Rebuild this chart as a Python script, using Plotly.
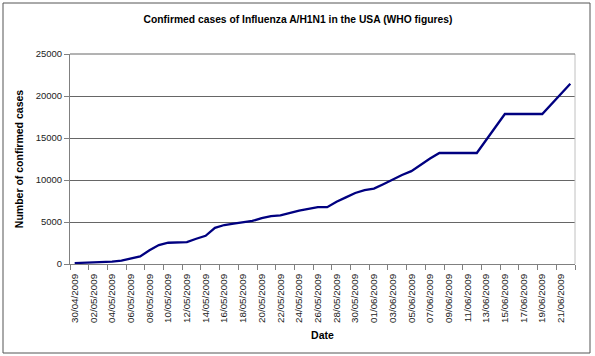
import plotly.graph_objects as go

# Data
dates = [
    "2009-04-30", "2009-05-01", "2009-05-02", "2009-05-03", "2009-05-04",
    "2009-05-05", "2009-05-06", "2009-05-07", "2009-05-08", "2009-05-09",
    "2009-05-10", "2009-05-11", "2009-05-12", "2009-05-13", "2009-05-14",
    "2009-05-15", "2009-05-16", "2009-05-17", "2009-05-18", "2009-05-19",
    "2009-05-20", "2009-05-21", "2009-05-22", "2009-05-23", "2009-05-24",
    "2009-05-25", "2009-05-26", "2009-05-27", "2009-05-28", "2009-05-29",
    "2009-05-30", "2009-05-31", "2009-06-01", "2009-06-02", "2009-06-03",
    "2009-06-04", "2009-06-05", "2009-06-06", "2009-06-07", "2009-06-08",
    "2009-06-12", "2009-06-15", "2009-06-19", "2009-06-22",
]
cases = [
    109, 141, 160, 226, 279,
    403, 642, 896, 1639, 2254,
    2532, 2532, 2600, 3009, 3352,
    4298, 4640, 4800, 4980, 5123,
    5469, 5710, 5790, 6090, 6350,
    6552, 6764, 6764, 7420, 7927,
    8450, 8800, 8975, 9500, 10053,
    10600, 11054, 11850, 12550, 13217,
    13217, 17855, 17855, 21449,
]
y_ticks = [0, 5000, 10000, 15000, 20000, 25000]

title_text = "Confirmed cases of Influenza A/H1N1 in the USA (WHO figures)"
x_title = "Date"
y_title = "Number of confirmed cases"

FONT = "Liberation Sans, Arial, sans-serif"
TWO_DAYS = 2 * 24 * 3600 * 1000

fig = go.Figure()
fig.add_trace(go.Scatter(
    x=dates, y=cases, mode="lines",
    line=dict(color="#000080", width=2.3),
    showlegend=False, hoverinfo="x+y",
))

# plot area in pixels: x 70..575, y 54..264
L, R, T, B = 70, 20, 54, 92
W, H = 595, 356
pw, ph = W - L - R, H - T - B

def px_x(p):
    return (p - L) / pw

def px_y(p):
    return (H - B - p) / ph

fig.update_layout(
    width=W, height=H,
    margin=dict(l=L, r=R, t=T, b=B, pad=0),
    paper_bgcolor="white", plot_bgcolor="white",
    font=dict(family=FONT, color="black", size=10),
    title=dict(
        text="<b>" + title_text + "</b>",
        x=298 / W, xref="container", xanchor="center",
        y=1 - 19 / H, yref="container", yanchor="middle",
        font=dict(size=10.3, family=FONT, color="black"),
    ),
    xaxis=dict(
        type="date",
        range=["2009-04-29 12:00", "2009-06-22 12:00"],
        tick0="2009-04-30", dtick=TWO_DAYS,
        tickformat="%d/%m/%Y", tickangle=-90,
        ticks="outside", ticklen=5, tickcolor="rgba(0,0,0,0)",
        tickfont=dict(size=9.8, family=FONT, color="#222"),
        showgrid=False, zeroline=False,
        showline=True, linecolor="#808080", linewidth=1,
        minor=dict(ticks="outside", ticklen=5, tickcolor="#808080",
                   tick0="2009-04-29 12:00", dtick=TWO_DAYS, showgrid=False),
        title=dict(text="<b>" + x_title + "</b>",
                   font=dict(size=10.5, family=FONT, color="black"),
                   standoff=9),
        fixedrange=True,
    ),
    yaxis=dict(
        range=[0, 25000],
        tickvals=y_ticks, ticktext=[str(v) for v in y_ticks],
        ticks="outside", ticklen=5, tickcolor="#808080",
        tickfont=dict(size=9.5, family=FONT, color="#222"),
        showgrid=True, gridcolor="#666666", gridwidth=1,
        zeroline=False,
        showline=True, linecolor="#808080", linewidth=1,
        title=dict(text="<b>" + y_title + "</b>",
                   font=dict(size=10.5, family=FONT, color="black"),
                   standoff=10),
        fixedrange=True,
    ),
    shapes=[
        # right border of plot area
        dict(type="line", xref="paper", yref="paper",
             x0=1, x1=1, y0=0, y1=1,
             line=dict(color="#c0c0c0", width=1)),
        # top gridline at 25000
        dict(type="line", xref="paper", yref="paper",
             x0=0, x1=1, y0=1, y1=1,
             line=dict(color="#666666", width=1)),
        # chart area border
        dict(type="rect", xref="paper", yref="paper",
             x0=px_x(3), x1=px_x(590), y0=px_y(353), y1=px_y(3),
             line=dict(color="#555555", width=1), fillcolor="rgba(0,0,0,0)",
             layer="below"),
    ],
)

fig.write_html(
    "out.html",
    config={"displayModeBar": False},
    post_script="document.body.style.margin='0';document.body.style.padding='0';",
)
